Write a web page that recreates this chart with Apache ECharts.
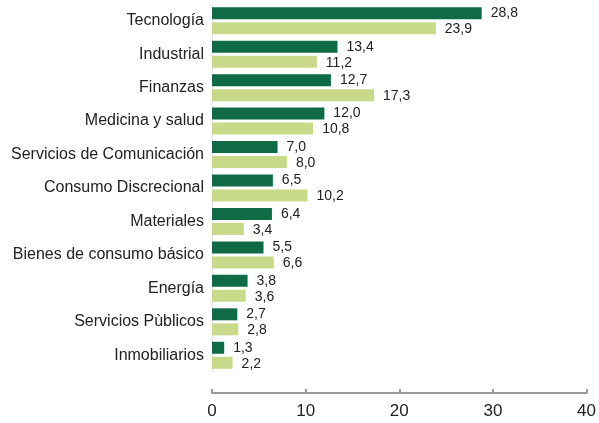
<!DOCTYPE html>
<html>
<head>
<meta charset="utf-8">
<script src="https://cdn.jsdelivr.net/npm/echarts@6/dist/echarts.min.js"></script>
<style>
  html, body { margin: 0; padding: 0; background: #fff; }
  #myCharts { width: 599px; height: 423px; }
</style>
</head>
<body>
<div id="myCharts"></div>
<script>
let categories = ["Tecnología", "Industrial", "Finanzas", "Medicina y salud", "Servicios de Comunicación",
  "Consumo Discrecional", "Materiales", "Bienes de consumo básico", "Energía", "Servicios Pùblicos", "Inmobiliarios"];
let darkValues = [28.8, 13.4, 12.7, 12.0, 7.0, 6.5, 6.4, 5.5, 3.8, 2.7, 1.3];
let lightValues = [23.9, 11.2, 17.3, 10.8, 8.0, 10.2, 3.4, 6.6, 3.6, 2.8, 2.2];

let fmt = function (p) {
  return p.value.toFixed(1).replace(".", ",");
};

let myChart = echarts.init(document.getElementById("myCharts"));
myChart.setOption({
  animation: false,
  textStyle: { fontFamily: "Liberation Sans, Arial, sans-serif" },
  grid: { left: 212, right: 11, top: 4, bottom: 51 },
  xAxis: {
    type: "value",
    min: 0,
    max: 40,
    interval: 10,
    offset: 21,
    axisLine: { show: true, lineStyle: { color: "#9a9a9a", width: 2 } },
    axisTick: { show: true, inside: true, length: 4, lineStyle: { color: "#9a9a9a", width: 2 } },
    axisLabel: { color: "#222", fontSize: 17, margin: 10 },
    splitLine: { show: false },
  },
  yAxis: {
    type: "category",
    data: categories,
    inverse: true,
    axisLine: { show: true, lineStyle: { color: "#e4e4e4", width: 1 } },
    axisTick: { show: false },
    axisLabel: { color: "#222", fontSize: 16, margin: 8 },
  },
  series: [
    {
      type: "bar",
      data: darkValues,
      barWidth: 12,
      barGap: "25%",
      itemStyle: { color: "#0e6b46" },
      label: { show: true, position: "right", distance: 9, color: "#222", fontSize: 14, formatter: fmt },
    },
    {
      type: "bar",
      data: lightValues,
      barWidth: 12,
      itemStyle: { color: "#c8da8a" },
      label: { show: true, position: "right", distance: 9, color: "#222", fontSize: 14, formatter: fmt, offset: [0, 1] },
    },
  ],
});
</script>
</body>
</html>
